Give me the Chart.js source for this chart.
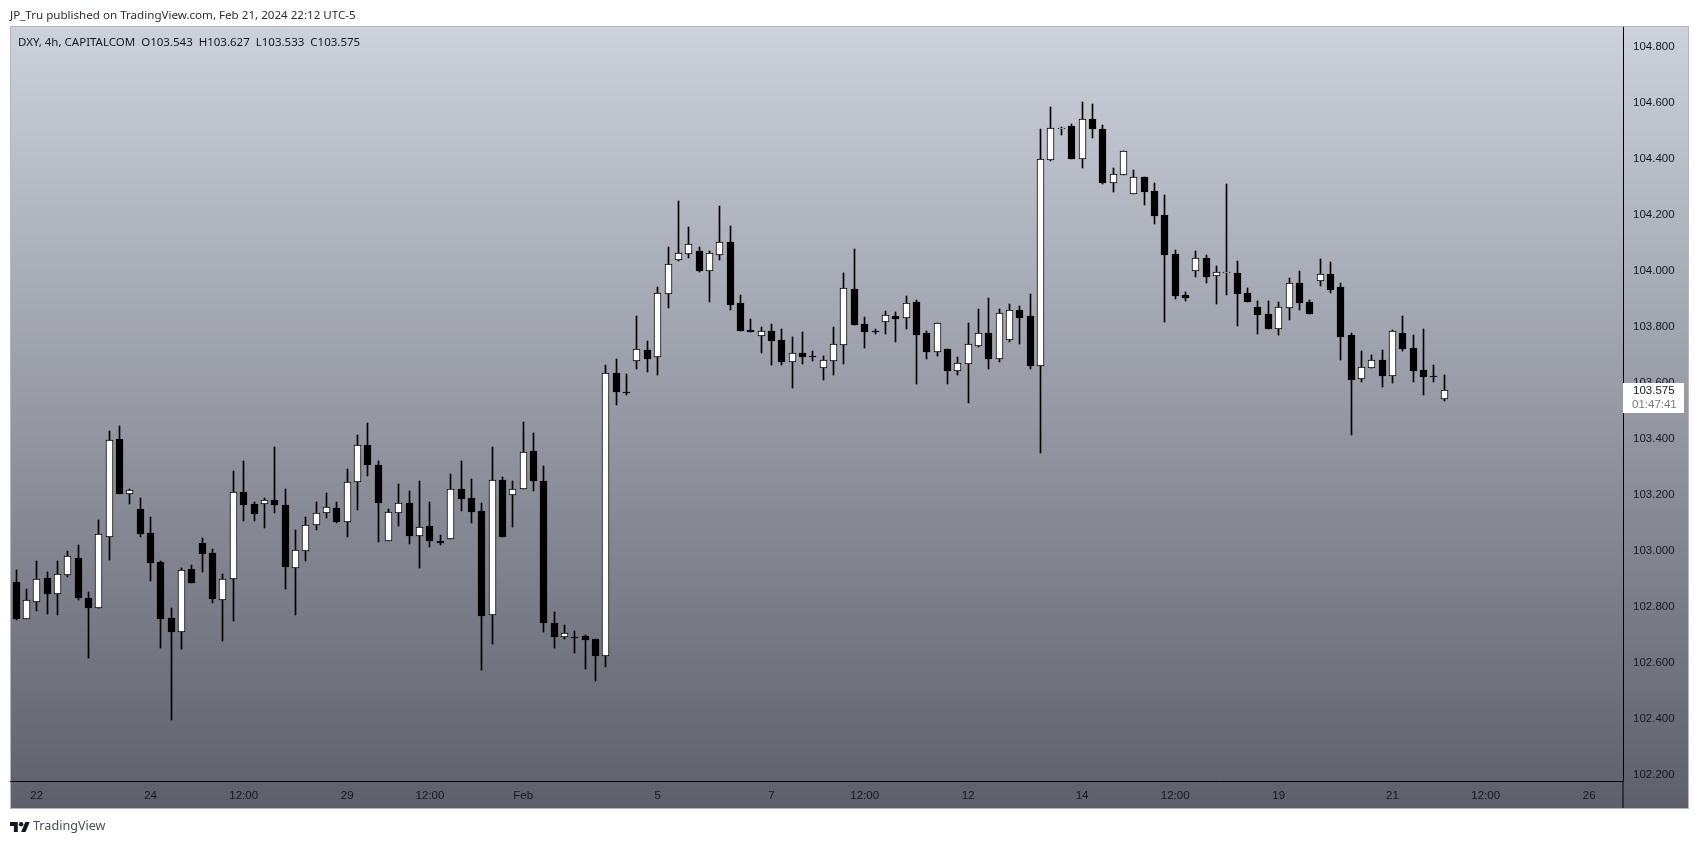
<!DOCTYPE html>
<html>
<head>
<meta charset="utf-8">
<title>DXY 4h</title>
<script src="https://cdn.jsdelivr.net/npm/chart.js@4/dist/chart.umd.js"></script>
<style>
  html, body { margin: 0; padding: 0; background: #fff; overflow: hidden; }
  #wrap { position: relative; width: 1699px; height: 844px; font-family: "Noto Sans", sans-serif; color: #131722; }
  canvas { position: absolute; left: 0; top: 0; }
  .txt { position: absolute; white-space: pre; line-height: 16px; }
  #published { left: 10px; top: 7px; font-size: 11.6px; color: #2a2e39; }
  #legend { left: 18px; top: 34px; font-size: 11.5px; }
  #brand { left: 33px; top: 818px; font-size: 12.6px; color: #4a4e59; }
  #logo { position: absolute; left: 10px; top: 822px; }
</style>
</head>
<body>
<div id="wrap">
  <canvas id="chart-dxy" width="1699" height="844"></canvas>
  <div class="txt" id="published">JP_Tru published on TradingView.com, Feb 21, 2024 22:12 UTC-5</div>
  <div class="txt" id="legend">DXY, 4h, CAPITALCOM  O103.543  H103.627  L103.533  C103.575</div>
  <svg id="logo" width="20" height="10" viewBox="0 0 36 18"><path fill="#131722" d="M14 18H7V7H0V0h14v18zM28 18h-8l7.5-18h8L28 18z"/><circle fill="#131722" cx="20" cy="4" r="4"/></svg>
  <div class="txt" id="brand">TradingView</div>
</div>
<script>
const opens = [
  102.888,102.757,102.818,102.902,102.846,102.914,102.974,102.831,102.796,103.050,
  103.399,103.203,103.149,103.063,102.959,102.759,102.711,102.934,103.027,102.992,
  102.825,102.900,103.209,103.167,103.168,103.181,103.163,102.939,103.000,103.093,
  103.136,103.152,103.103,103.246,103.377,103.306,103.034,103.136,103.170,103.052,
  103.088,103.034,103.043,103.220,103.188,103.142,102.770,103.252,103.199,103.220,
  103.356,103.249,102.742,102.693,102.691,102.695,102.684,102.625,103.635,103.566,
  103.679,103.717,103.693,103.918,104.039,104.061,104.070,104.000,104.057,104.103,
  103.885,103.788,103.768,103.785,103.753,103.672,103.706,103.695,103.654,103.679,
  103.736,103.935,103.810,103.785,103.818,103.838,103.832,103.888,103.778,103.711,
  103.720,103.643,103.668,103.732,103.778,103.686,103.754,103.860,103.838,103.660,
  104.396,104.506,104.516,104.400,104.541,104.506,104.314,104.343,104.275,104.334,
  104.284,104.199,104.059,103.913,104.000,104.045,103.982,103.993,103.991,103.920,
  103.870,103.845,103.793,103.868,103.956,103.888,103.964,103.988,103.941,103.770,
  103.614,103.653,103.681,103.625,103.777,103.724,103.645,103.622,103.543
];
const highs = [
  102.931,102.862,102.962,102.923,102.962,102.999,103.020,102.852,103.109,103.427,
  103.445,103.219,103.188,103.120,102.962,102.795,102.937,102.949,103.045,103.006,
  102.917,103.284,103.320,103.173,103.187,103.370,103.220,103.074,103.120,103.174,
  103.206,103.174,103.292,103.413,103.456,103.320,103.149,103.238,103.213,103.249,
  103.174,103.056,103.274,103.320,103.256,103.170,103.370,103.263,103.249,103.459,
  103.420,103.302,102.781,102.734,102.713,102.699,102.684,103.663,103.685,103.631,
  103.838,103.749,103.942,104.085,104.249,104.156,104.085,104.070,104.231,104.160,
  103.913,103.828,103.799,103.810,103.792,103.763,103.781,103.713,103.695,103.799,
  103.992,104.078,103.835,103.792,103.856,103.853,103.910,103.895,103.785,103.812,
  103.720,103.692,103.813,103.863,103.903,103.863,103.881,103.874,103.917,104.506,
  104.584,104.513,104.524,104.602,104.595,104.520,104.366,104.426,104.359,104.334,
  104.313,104.270,104.074,103.924,104.070,104.056,104.016,104.309,104.034,103.938,
  103.891,103.891,103.888,103.974,103.999,103.895,104.041,104.031,103.956,103.777,
  103.713,103.699,103.716,103.788,103.838,103.770,103.791,103.663,103.627
];
const lows = [
  102.752,102.757,102.786,102.774,102.771,102.907,102.824,102.618,102.796,102.967,
  103.202,103.167,103.050,102.892,102.652,102.395,102.650,102.884,102.924,102.813,
  102.677,102.749,103.106,103.106,103.081,103.134,102.863,102.770,102.963,103.074,
  103.117,103.099,103.049,103.145,103.267,103.031,103.034,103.088,103.024,102.938,
  103.013,103.020,103.043,103.142,103.099,102.574,102.667,103.049,103.084,103.220,
  103.213,102.709,102.652,102.684,102.634,102.577,102.534,102.584,103.520,103.556,
  103.649,103.638,103.628,103.867,104.035,104.045,103.995,103.888,104.038,103.860,
  103.785,103.781,103.706,103.663,103.663,103.581,103.667,103.678,103.610,103.628,
  103.667,103.806,103.724,103.774,103.774,103.745,103.792,103.595,103.685,103.695,
  103.595,103.628,103.528,103.728,103.649,103.674,103.745,103.738,103.649,103.349,
  104.391,104.484,104.399,104.366,104.474,104.309,104.281,104.343,104.275,104.234,
  104.166,103.816,103.899,103.891,103.977,103.956,103.881,103.913,103.802,103.888,
  103.774,103.791,103.770,103.824,103.859,103.845,103.945,103.920,103.681,103.413,
  103.602,103.653,103.584,103.599,103.713,103.602,103.556,103.602,103.533
];
const closes = [
  102.757,102.823,102.898,102.845,102.915,102.980,102.831,102.795,103.058,103.394,
  103.202,103.215,103.059,102.956,102.756,102.709,102.930,102.884,102.988,102.827,
  102.898,103.208,103.163,103.131,103.180,103.163,102.942,103.001,103.090,103.133,
  103.155,103.102,103.244,103.376,103.306,103.170,103.137,103.169,103.052,103.084,
  103.034,103.027,103.219,103.184,103.138,102.767,103.251,103.049,103.219,103.351,
  103.249,102.742,102.692,102.705,102.689,102.681,102.624,103.634,103.565,103.564,
  103.719,103.685,103.919,104.023,104.062,104.094,103.999,104.062,104.101,103.878,
  103.785,103.781,103.784,103.749,103.674,103.705,103.692,103.693,103.680,103.737,
  103.937,103.806,103.781,103.783,103.841,103.828,103.884,103.770,103.710,103.812,
  103.642,103.669,103.737,103.776,103.685,103.848,103.859,103.831,103.660,104.397,
  104.508,104.508,104.399,104.540,104.506,104.313,104.344,104.426,104.333,104.281,
  104.195,104.056,103.909,103.902,104.044,103.977,103.994,103.994,103.916,103.888,
  103.841,103.791,103.869,103.955,103.884,103.845,103.987,103.931,103.763,103.609,
  103.655,103.680,103.624,103.783,103.720,103.641,103.620,103.621,103.575
];

// bar index of each date label on the time axis
const timeTickIndex = [2, 13, 22, 32, 40, 49, 62, 73, 82, 92, 103, 112, 122, 133, 142, 152];
const timeTickLabels = ["22", "24", "12:00", "29", "12:00", "Feb", "5", "7", "12:00", "12", "14", "12:00", "19", "21", "12:00", "26"];
const priceTicks = [102.2, 102.4, 102.6, 102.8, 103.0, 103.2, 103.4, 103.6, 103.8, 104.0, 104.2, 104.4, 104.6, 104.8];
const lastPrice = 103.575;
const countdown = "01:47:41";

const wicks = highs.map((h, i) => ({ x: i, y: [lows[i], h] }));
const bodies = opens.map((o, i) => ({ x: i, y: [o, closes[i]] }));
const bodyFill = opens.map((o, i) => (closes[i] >= o ? "#ffffff" : "#000000"));

// keep candles on whole pixels like the original
const snapBars = {
  id: "snapBars",
  afterDatasetsUpdate(chart) {
    chart.data.datasets.forEach((ds, n) => {
      chart.getDatasetMeta(n).data.forEach((el) => {
        el.x = Math.floor(el.x) + 0.5;
        el.y = Math.round(el.y);
        el.base = Math.round(el.base);
        if (el.base - el.y < 1) el.base = el.y + 1;
      });
    });
  },
};

const paneBackdrop = {
  id: "paneBackdrop",
  beforeDraw(chart) {
    const { ctx } = chart;
    const g = ctx.createLinearGradient(0, 27, 0, 808);
    g.addColorStop(0, "#cdd1db");
    g.addColorStop(1, "#5d606b");
    ctx.fillStyle = g;
    ctx.fillRect(10, 27, 1679, 781);
    ctx.strokeStyle = "#b4b7c2";
    ctx.lineWidth = 1;
    ctx.strokeRect(10.5, 26.5, 1678, 782);
  },
  afterDraw(chart) {
    const { ctx, chartArea, scales } = chart;
    ctx.save();
    ctx.fillStyle = "#000";
    ctx.fillRect(chartArea.right - 0.5, chartArea.bottom, 1, 27);
    const py = Math.round(scales.y.getPixelForValue(lastPrice));
    ctx.fillStyle = "#fff";
    ctx.fillRect(chartArea.right, py - 7, 61, 30);
    ctx.font = "11.5px 'Liberation Sans'";
    ctx.textBaseline = "middle";
    ctx.fillStyle = "#131722";
    ctx.fillText(lastPrice.toFixed(3), chartArea.right + 10, py + 1);
    ctx.fillStyle = "#787b86";
    ctx.fillText(countdown, chartArea.right + 9, py + 15);
    ctx.restore();
  },
};

new Chart(document.getElementById("chart-dxy"), {
  type: "bar",
  data: {
    datasets: [
      { label: "wick", data: wicks, backgroundColor: "#000000", barThickness: 1, grouped: false, order: 2 },
      { label: "body", data: bodies, backgroundColor: bodyFill, borderColor: "#000000", borderWidth: 1, borderSkipped: false, barThickness: 7, grouped: false, order: 1 },
    ],
  },
  options: {
    responsive: false,
    animation: false,
    devicePixelRatio: 1,
    layout: { padding: { left: 10, top: 27, right: 0, bottom: 0 } },
    plugins: { legend: { display: false }, tooltip: { enabled: false } },
    scales: {
      x: {
        type: "linear",
        offset: false,
        min: -0.58,
        max: 155.27,
        grid: { display: false, drawTicks: false },
        border: { display: true, color: "#000000", width: 1 },
        afterBuildTicks: (s) => { s.ticks = timeTickIndex.map((v) => ({ value: v })); },
        afterFit: (s) => { s.height = 63; },
        ticks: {
          autoSkip: false,
          maxRotation: 0,
          padding: 8,
          color: "#131722",
          font: { family: "'Liberation Sans'", size: 11.5 },
          callback: (v) => timeTickLabels[timeTickIndex.indexOf(v)],
        },
      },
      y: {
        position: "right",
        min: 102.1775,
        max: 104.87,
        grid: { display: false, drawTicks: false },
        border: { display: true, color: "#000000", width: 1 },
        afterBuildTicks: (s) => { s.ticks = priceTicks.map((v) => ({ value: v })); },
        afterFit: (s) => { s.width = 76; },
        ticks: {
          padding: 10,
          color: "#131722",
          font: { family: "'Liberation Sans'", size: 11.5 },
          callback: (v) => v.toFixed(3),
        },
      },
    },
  },
  plugins: [snapBars, paneBackdrop],
});
</script>
</body>
</html>
